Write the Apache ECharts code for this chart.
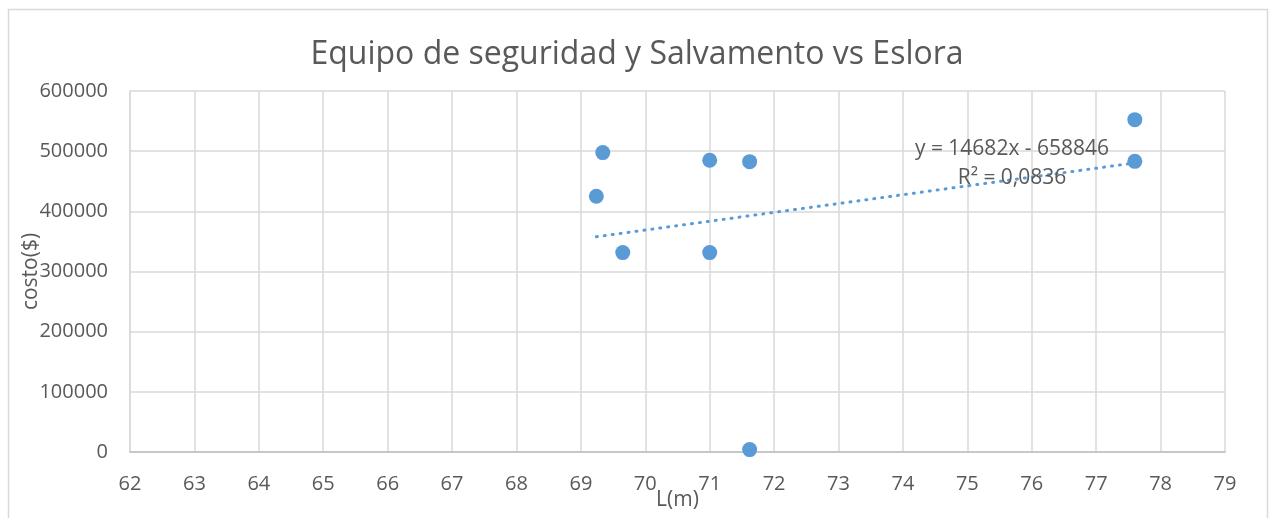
<!DOCTYPE html>
<html>
<head>
<meta charset="utf-8">
<script src="https://cdn.jsdelivr.net/npm/echarts@6/dist/echarts.min.js"></script>
<style>
	html, body { margin: 0; padding: 0; background: #fff; }
	#chart { width: 1274px; height: 518px; }
</style>
</head>
<body>
<div id="chart"></div>
<script>
// eslora (m) vs costo ($)
var eslora = [69.24, 69.34, 69.65, 71.0, 71.0, 71.62, 71.62, 77.6, 77.6];
var costo = [425000, 497600, 331400, 484800, 331400, 482600, 4000, 552400, 483100];

// linear trendline as printed on the chart
var trendSlope = 14682,
	trendIntercept = -658846,
	trendText = ["y = 14682x - 658846", "R\u00b2 = 0,0836"];

var xTicks = { min: 62, max: 79, step: 1 },
	yTicks = { min: 0, max: 600000, step: 100000 };

var points = [],
	i;

for (i=0; i < eslora.length; i++)
{
	points.push([eslora[i], costo[i]]);
}

var xs = eslora.slice().sort(function(a, b) { return a - b; }),
	x0 = xs[0],
	x1 = xs[xs.length - 1],
	trendLine = [
		[x0, trendSlope * x0 + trendIntercept],
		[x1, trendSlope * x1 + trendIntercept]
	];

var font = "'Open Sans', 'Liberation Sans', sans-serif",
	textColor = "#595959",
	gridColor = "#d9d9d9";

var myChart = echarts.init(document.getElementById("chart"), null, {
	renderer: "canvas"
});

var option = {
	backgroundColor: "#fff",
	animation: false,
	textStyle: {
		fontFamily: font
	},
	title: {
		text: "Equipo de seguridad y Salvamento vs Eslora",
		left: "center",
		top: 34,
		textStyle: {
			fontFamily: font,
			fontSize: 32,
			fontWeight: "normal",
			color: textColor
		}
	},
	grid: {
		left: 130,
		right: 49,
		top: 91,
		bottom: 66,
		containLabel: false,
		outerBoundsMode: "none"
	},
	xAxis: {
		type: "value",
		min: xTicks.min,
		max: xTicks.max,
		interval: xTicks.step,
		name: "L(m)",
		nameLocation: "middle",
		nameGap: 38,
		nameMoveOverlap: false,
		nameTextStyle: {
			fontFamily: font,
			fontSize: 21,
			color: textColor
		},
		axisLine: {
			show: true,
			onZero: false,
			lineStyle: { color: "#bfbfbf", width: 1.5 }
		},
		axisTick: { show: false },
		axisLabel: {
			fontFamily: font,
			fontSize: 20,
			color: textColor,
			margin: 22
		},
		splitLine: {
			show: true,
			lineStyle: { color: gridColor, width: 1.5 }
		}
	},
	yAxis: {
		type: "value",
		min: yTicks.min,
		max: yTicks.max,
		interval: yTicks.step,
		name: "costo($)",
		nameLocation: "middle",
		nameRotate: 90,
		nameGap: 88,
		nameMoveOverlap: false,
		nameTextStyle: {
			fontFamily: font,
			fontSize: 21,
			color: textColor
		},
		axisLine: {
			show: true,
			lineStyle: { color: gridColor, width: 1.5 }
		},
		axisTick: { show: false },
		axisLabel: {
			fontFamily: font,
			fontSize: 20,
			color: textColor,
			margin: 22,
			formatter: function(v) {
				return String(v);
			}
		},
		splitLine: {
			show: true,
			lineStyle: { color: gridColor, width: 1.5 }
		}
	},
	series: [
		{
			type: "line",
			data: trendLine,
			symbol: "none",
			silent: true,
			z: 2,
			lineStyle: {
				color: "#5b9bd5",
				width: 3,
				type: [1, 7],
				cap: "round"
			}
		},
		{
			type: "scatter",
			data: points,
			symbol: "circle",
			symbolSize: 15,
			z: 3,
			itemStyle: {
				color: "#5b9bd5",
				opacity: 1
			}
		}
	],
	graphic: [
		{
			type: "rect",
			left: 6,
			top: 7,
			shape: { width: 1259, height: 530 },
			style: { fill: null, stroke: "#d9d9d9", lineWidth: 1.5 },
			silent: true,
			z: -1
		},
		{
			type: "text",
			x: 1012,
			y: 149,
			style: {
				text: trendText[0],
				fontFamily: font,
				fontSize: 21,
				fill: textColor,
				align: "center",
				verticalAlign: "middle"
			},
			z: 10
		},
		{
			type: "text",
			x: 1012,
			y: 178,
			style: {
				text: trendText[1],
				fontFamily: font,
				fontSize: 21,
				fill: textColor,
				align: "center",
				verticalAlign: "middle"
			},
			z: 10
		}
	]
};

myChart.setOption(option);
</script>
</body>
</html>
